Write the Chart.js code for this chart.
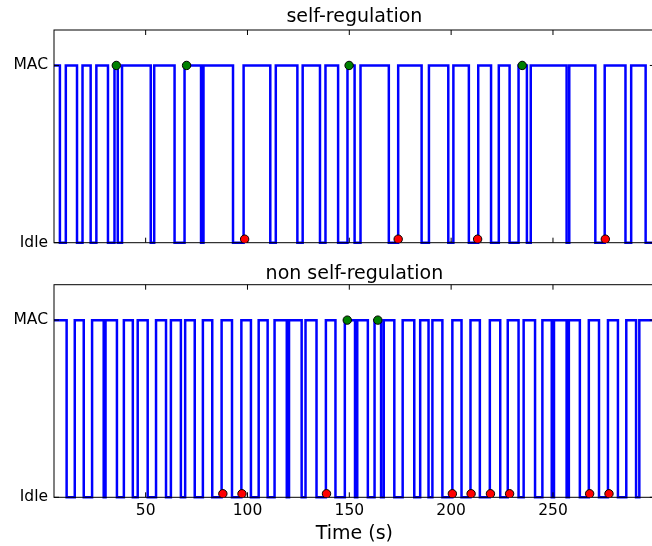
<!DOCTYPE html>
<html>
<head>
<meta charset="utf-8">
<script src="https://cdn.jsdelivr.net/npm/chart.js@4.4.0/dist/chart.umd.min.js"></script>
<style>
  html, body { margin: 0; padding: 0; background: #fff; overflow: hidden; }
  canvas { position: absolute; left: 0; }
  #selfChart { top: 0; }
  #nonSelfChart { top: 260px; }
</style>
</head>
<body>
<canvas id="selfChart" width="660" height="260"></canvas>
<canvas id="nonSelfChart" width="660" height="286"></canvas>
<script>
// time axis
const timeMin = 5;
const timeMax = 300;
const timeTicks = [50, 100, 150, 200, 250];
const stateLabels = ['Idle', 'MAC'];

// switch times (s), the line starts at MAC and toggles at every entry
const selfRegTimes = [7.9, 10.8, 16.3, 19.0, 23.0, 25.8, 31.5, 34.7, 36.3, 38.4,
  52.5, 54.2, 64.2, 69.1, 77.2, 78.4, 92.9, 98.1, 111.2, 113.9,
  124.5, 127.1, 135.6, 138.3, 144.5, 149.1, 152.6, 155.5, 169.4, 174.0,
  185.5, 189.1, 198.6, 201.1, 208.7, 213.3, 219.6, 223.4, 228.7, 233.1,
  237.2, 239.1, 256.7, 258.0, 270.8, 275.4, 285.6, 288.4, 295.5];
const selfRegIdleMarks = [98.6, 174.0, 213.0, 275.7];
const selfRegMacMarks = [35.6, 70.1, 149.9, 234.9];

const nonSelfRegTimes = [11.2, 15.2, 19.6, 23.7, 29.4, 30.3, 35.9, 39.3, 43.7, 46.1,
  51.0, 55.1, 60.0, 62.4, 67.3, 69.4, 74.1, 78.1, 82.7, 87.3,
  92.4, 97.0, 101.7, 105.5, 109.9, 113.3, 119.3, 120.4, 126.6, 128.5,
  133.9, 138.5, 143.2, 147.8, 152.8, 153.9, 159.1, 162.4, 165.6, 166.9,
  172.1, 176.2, 181.9, 184.8, 188.9, 190.8, 195.7, 200.6, 205.1, 209.5,
  214.1, 219.0, 224.1, 227.8, 233.1, 235.6, 241.2, 244.8, 249.4, 250.5,
  256.7, 257.8, 263.2, 267.6, 272.6, 277.0, 281.9, 286.0, 290.8, 292.4];
const nonSelfRegIdleMarks = [87.9, 97.3, 138.8, 200.6, 209.8, 219.3, 228.7, 268.0, 277.5];
const nonSelfRegMacMarks = [149.0, 164.0];

// red dots sit just above the Idle line and are cut by the axis
const idleMarkLevel = 0.02;

const FONT = 'DejaVu Sans';

function stepPoints(times) {
  const pts = [{ x: timeMin, y: 1 }];
  let level = 1;
  times.forEach(t => {
    level = 1 - level;
    pts.push({ x: t, y: level });
  });
  pts.push({ x: timeMax, y: level });
  return pts;
}

// box + inward ticks, drawn right after the step line so markers sit on top
const frameTicks = {
  id: 'frameTicks',
  afterDatasetDraw(chart, args) {
    if (args.index !== 2) return;
    const { ctx, chartArea: a, scales } = chart;
    ctx.save();
    ctx.strokeStyle = '#000';
    ctx.lineWidth = 1;
    ctx.strokeRect(a.left, a.top, a.right - a.left, a.bottom - a.top);
    ctx.beginPath();
    timeTicks.forEach(v => {
      const x = scales.x.getPixelForValue(v);
      ctx.moveTo(x, a.bottom); ctx.lineTo(x, a.bottom - 5);
      ctx.moveTo(x, a.top); ctx.lineTo(x, a.top + 5);
    });
    [0, 1].forEach(v => {
      const y = scales.y.getPixelForValue(v);
      ctx.moveTo(a.left, y); ctx.lineTo(a.left + 5, y);
      ctx.moveTo(a.right, y); ctx.lineTo(a.right - 5, y);
    });
    ctx.stroke();
    ctx.restore();
  }
};

function makeChart(id, title, times, idleMarks, macMarks, showX, titlePad, padBottom) {
  const markerStyle = {
    showLine: false,
    pointRadius: 4.2,
    pointBorderColor: '#000',
    pointBorderWidth: 1
  };
  return new Chart(document.getElementById(id), {
    type: 'line',
    data: {
      datasets: [
        Object.assign({
          data: idleMarks.map(t => ({ x: t, y: idleMarkLevel })),
          pointBackgroundColor: '#ff0000',
          clip: { left: 6, right: 6, top: 6, bottom: 0 }
        }, markerStyle),
        Object.assign({
          data: macMarks.map(t => ({ x: t, y: 1 })),
          pointBackgroundColor: '#008000',
          clip: false
        }, markerStyle),
        {
          data: stepPoints(times),
          stepped: 'before',
          borderColor: '#0000ff',
          borderWidth: 2.5,
          borderJoinStyle: 'miter',
          pointRadius: 0,
          fill: false,
          clip: 3
        }
      ]
    },
    options: {
      responsive: false,
      animation: false,
      devicePixelRatio: 1,
      layout: { padding: { left: 0, right: 1.2, top: 0, bottom: padBottom } },
      plugins: {
        legend: { display: false },
        tooltip: { enabled: false },
        title: {
          display: true,
          text: title,
          fullSize: false,
          color: '#000',
          font: { family: FONT, size: 19, weight: 'normal', lineHeight: 1 },
          padding: titlePad
        }
      },
      scales: {
        x: {
          type: 'linear',
          min: timeMin,
          max: timeMax,
          grid: { display: false, drawTicks: false },
          border: { display: false },
          afterBuildTicks: s => { s.ticks = timeTicks.map(v => ({ value: v })); },
          afterFit: s => { s.height = showX ? 48.7 : 0; },
          ticks: {
            display: showX,
            padding: 4.7,
            color: '#000',
            font: { family: FONT, size: 15.5 },
            maxRotation: 0
          },
          title: {
            display: showX,
            text: 'Time (s)',
            color: '#000',
            font: { family: FONT, size: 19 },
            padding: { top: 0, bottom: 0.7 }
          }
        },
        y: {
          min: 0,
          max: 1.2,
          grid: { display: false, drawTicks: false },
          border: { display: false },
          afterBuildTicks: s => { s.ticks = [{ value: 0 }, { value: 1 }]; },
          afterFit: s => { s.width = 54; },
          ticks: {
            padding: 6,
            color: '#000',
            font: { family: FONT, size: 15.5 },
            callback: v => stateLabels[v]
          }
        }
      }
    },
    plugins: [frameTicks]
  });
}

makeChart('selfChart', 'self-regulation', selfRegTimes, selfRegIdleMarks, selfRegMacMarks,
  false, { top: 7.9, bottom: 3.1 }, 17.3);
makeChart('nonSelfChart', 'non self-regulation', nonSelfRegTimes, nonSelfRegIdleMarks, nonSelfRegMacMarks,
  true, { top: 4.7, bottom: 1.0 }, 0);
</script>
</body>
</html>
